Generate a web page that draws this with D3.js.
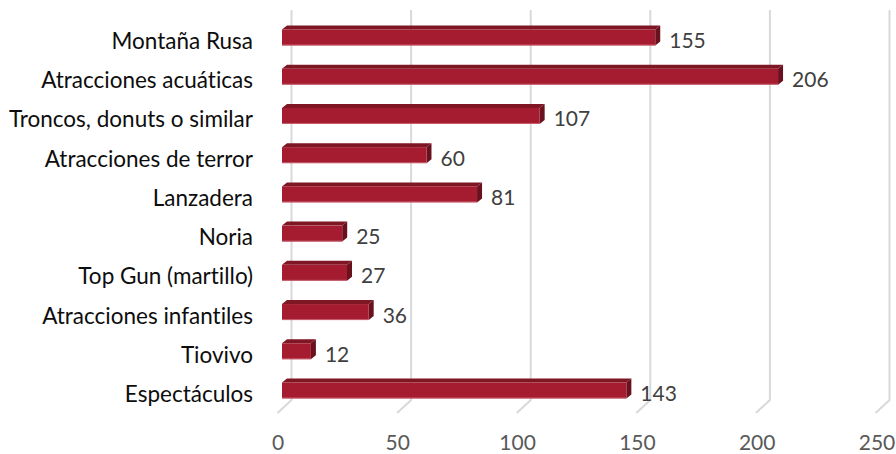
<!DOCTYPE html>
<html><head><meta charset="utf-8">
<script src="https://cdn.jsdelivr.net/npm/d3@7"></script>
<style>html,body{margin:0;padding:0;background:#fff;}svg{display:block;}text{font-variant-ligatures:none;font-feature-settings:"liga" 0,"clig" 0;}</style>
</head><body>
<svg id="chart" width="896" height="454"></svg>
<script>
const categories = ["Montaña Rusa","Atracciones acuáticas","Troncos, donuts o similar","Atracciones de terror","Lanzadera","Noria","Top Gun (martillo)","Atracciones infantiles","Tiovivo","Espectáculos"];
const values = [155,206,107,60,81,25,27,36,12,143];
const tickValues = [0,50,100,150,200,250];

const svg = d3.select("#chart");
const fontFam = "Lato, 'Open Sans', sans-serif";

const xFront = d3.scaleLinear().domain([0,250]).range([282, 884]);
const xBack = d3.scaleLinear().domain([0,250]).range([291.5, 889.5]);
const xTick = d3.scaleLinear().domain([0,250]).range([278, 877]);
const y = d3.scalePoint().domain(categories).range([37.5, 390.5]);

const backTop = 10, backBottom = 400, floorDx = -14, floorDy = 13;
const barH = 16, dx = 5, dy = -4;

// gridlines
const grid = svg.append("g");
tickValues.forEach(t => {
  const xb = xBack(t);
  grid.append("path")
    .attr("d", `M${xb},${backTop}L${xb},${backBottom}L${xb+floorDx},${backBottom+floorDy}`)
    .attr("fill","none").attr("stroke","#d9d9d9").attr("stroke-width",2);
});

// tick labels
svg.append("g").selectAll("text").data(tickValues).join("text")
  .attr("x", d => xTick(d)).attr("y", 441)
  .attr("text-anchor","middle").attr("dominant-baseline","central")
  .attr("font-family", fontFam).attr("font-size", 21).attr("fill","#595959")
  .text(d => d);

// bars
const bars = svg.append("g").selectAll("g").data(categories).join("g");
bars.each(function(c, i) {
  const g = d3.select(this);
  const x0 = xFront(0), x1 = xFront(values[i]);
  const yc = y(c), yt = yc - barH/2, yb = yc + barH/2;
  g.append("path").attr("d", `M${x0},${yt}L${x0+dx},${yt+dy}L${x1+dx},${yt+dy}L${x1},${yt}Z`).attr("fill","#7f1624");
  g.append("path").attr("d", `M${x1},${yt}L${x1+dx},${yt+dy}L${x1+dx},${yb+dy}L${x1},${yb}Z`).attr("fill","#6a111e");
  g.append("rect").attr("x", x0).attr("y", yt).attr("width", x1-x0).attr("height", barH).attr("fill","#a51c30");
  g.append("line").attr("x1", x0).attr("x2", x1).attr("y1", yb-0.5).attr("y2", yb-0.5).attr("stroke","#d67a88").attr("stroke-width",1).attr("opacity",0.7);
});

// value labels
svg.append("g").selectAll("text").data(categories).join("text")
  .attr("x", (c,i) => xFront(values[i]) + 14).attr("y", c => y(c) + 2)
  .attr("dominant-baseline","central")
  .attr("font-family", fontFam).attr("font-size", 21).attr("fill","#404040")
  .text((c,i) => values[i]);

// category labels
svg.append("g").selectAll("text").data(categories).join("text")
  .attr("x", 253).attr("y", c => y(c) + 3)
  .attr("text-anchor","end").attr("dominant-baseline","central")
  .attr("font-family", fontFam).attr("font-size", 22.5).attr("fill","#0d0d0d")
  .text(c => c);
</script>
</body></html>
